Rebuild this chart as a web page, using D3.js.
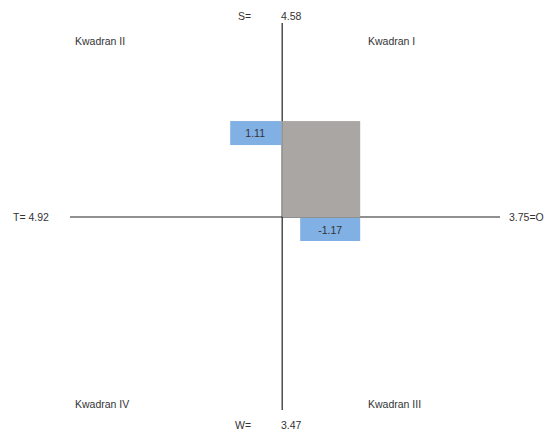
<!DOCTYPE html>
<html>
<head>
<meta charset="utf-8">
<script src="https://cdn.jsdelivr.net/npm/d3@7"></script>
<style>
  body { margin: 0; background: #fff; }
  text { font-family: "Liberation Sans", Arial, sans-serif; font-size: 10.5px; fill: #333; }
</style>
</head>
<body>
<div id="chart-area"></div>
<script>
// SWOT scores
var factors = ["S", "W", "O", "T"]
var scores = [4.58, 3.47, 3.75, 4.92]
var quadrants = ["Kwadran I", "Kwadran II", "Kwadran III", "Kwadran IV"]

// resulting point: x = S - W, y = O - T
var pointX = [1.11]
var pointY = [-1.17]

var width = 548, height = 432

var svg = d3.select("#chart-area")
    .append("svg")
        .attr("width", width)
        .attr("height", height)

// scales (negative y drawn upward as in the original)
var x = d3.scaleLinear().domain([-3.02, 3.1]).range([70, 500])
var y = d3.scaleLinear().domain([2.354, -2.366]).range([410, 23])

// axes lines
svg.append("line")
    .attr("x1", x(-3.02)).attr("x2", x(3.1))
    .attr("y1", y(0)).attr("y2", y(0))
    .attr("stroke", "#222").attr("stroke-width", 1.2)
svg.append("line")
    .attr("x1", x(0)).attr("x2", x(0))
    .attr("y1", y(-2.366)).attr("y2", y(2.354))
    .attr("stroke", "#222").attr("stroke-width", 1.2)

// gray area
svg.append("rect")
    .attr("x", x(0))
    .attr("y", y(pointY[0]))
    .attr("width", x(pointX[0]) - x(0))
    .attr("height", y(0) - y(pointY[0]))
    .attr("fill", "#aaa6a4")

// value boxes
svg.append("rect")
    .attr("x", x(0) - 52).attr("y", y(pointY[0]))
    .attr("width", 51).attr("height", 24)
    .attr("fill", "#80b0e4")
svg.append("text")
    .attr("x", x(0) - 27).attr("y", y(pointY[0]) + 16)
    .attr("text-anchor", "middle")
    .text(pointX[0].toFixed(2))

svg.append("rect")
    .attr("x", x(pointX[0]) - 60).attr("y", y(0) + 1)
    .attr("width", 60).attr("height", 23)
    .attr("fill", "#80b0e4")
svg.append("text")
    .attr("x", x(pointX[0]) - 30).attr("y", y(0) + 17)
    .attr("text-anchor", "middle")
    .text(pointY[0].toFixed(2))

// factor labels
svg.append("text").attr("x", 238).attr("y", 20).text(factors[0] + "=")
svg.append("text").attr("x", 281).attr("y", 20).text(scores[0].toFixed(2))
svg.append("text").attr("x", 235).attr("y", 429).text(factors[1] + "=")
svg.append("text").attr("x", 281).attr("y", 429).text(scores[1].toFixed(2))
svg.append("text").attr("x", 13).attr("y", 221).text(factors[3] + "= " + scores[3].toFixed(2))
svg.append("text").attr("x", 509).attr("y", 221).text(scores[2].toFixed(2) + "=" + factors[2])

// quadrant labels
svg.append("text").attr("x", 368).attr("y", 45).text(quadrants[0])
svg.append("text").attr("x", 75).attr("y", 45).text(quadrants[1])
svg.append("text").attr("x", 368).attr("y", 408).text(quadrants[2])
svg.append("text").attr("x", 75).attr("y", 408).text(quadrants[3])
</script>
</body>
</html>
